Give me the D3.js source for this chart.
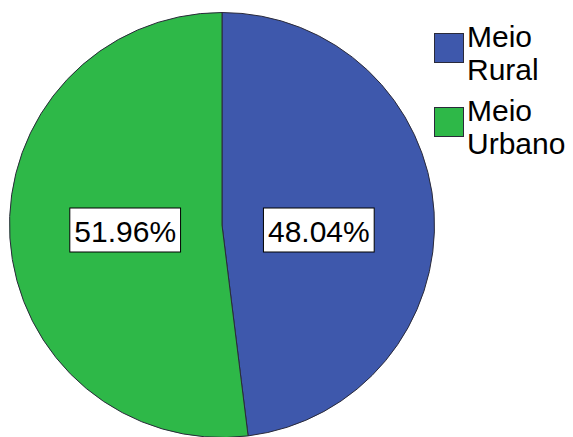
<!DOCTYPE html>
<html>
<head>
<meta charset="utf-8">
<script src="https://cdn.jsdelivr.net/npm/d3@7"></script>
<style>
  html, body { margin: 0; padding: 0; background: #fff; }
  svg { display: block; }
  text { font-family: "Liberation Sans", Arial, sans-serif; }
</style>
</head>
<body>
<svg id="chart" width="573" height="437"></svg>
<script>
// Share of respondents by area of residence
const categories = ["Meio Rural", "Meio Urbano"];
const legendLines = [["Meio", "Rural"], ["Meio", "Urbano"]];
const percents = [48.04, 51.96];
const colors = ["#3e58ac", "#2eb848"];

const width = 573, height = 437;
const cx = 222, cy = 225, radius = 212.5;

const svg = d3.select("#chart");

const pie = d3.pie().sort(null).value(d => d)
  .startAngle(0).endAngle(2 * Math.PI);
const arcs = pie(percents);

const arc = d3.arc().innerRadius(0).outerRadius(radius);
const labelArc = d3.arc().innerRadius(97).outerRadius(97);

const g = svg.append("g").attr("transform", `translate(${cx},${cy})`);

g.selectAll("path.slice")
  .data(arcs)
  .join("path")
  .attr("class", "slice")
  .attr("d", arc)
  .attr("fill", (d, i) => colors[i])
  .attr("stroke", "#2a2a3a")
  .attr("stroke-width", 1);

// Percentage labels in white boxes
const fmt = v => v.toFixed(2) + "%";
const labels = g.selectAll("g.lbl")
  .data(arcs)
  .join("g")
  .attr("class", "lbl")
  .attr("transform", d => {
    const [x] = labelArc.centroid(d);
    return `translate(${x},5)`;
  });

labels.each(function(d) {
  const sel = d3.select(this);
  const t = sel.append("text")
    .attr("text-anchor", "middle")
    .attr("y", 11.5)
    .attr("font-size", 30)
    .attr("fill", "#000")
    .text(fmt(d.data));
  const w = t.node().getComputedTextLength();
  sel.insert("rect", "text")
    .attr("x", -w / 2 - 4.5)
    .attr("y", -22)
    .attr("width", w + 9)
    .attr("height", 44)
    .attr("fill", "#fff")
    .attr("stroke", "#000")
    .attr("stroke-width", 1);
});

// Legend
const legend = svg.append("g").attr("transform", "translate(434,33)");
const item = legend.selectAll("g.item")
  .data(categories)
  .join("g")
  .attr("class", "item")
  .attr("transform", (d, i) => `translate(0,${i * 74})`);

item.append("rect")
  .attr("x", 0.5).attr("y", 0.5)
  .attr("width", 29).attr("height", 29)
  .attr("fill", (d, i) => colors[i])
  .attr("stroke", "#2a2a3a")
  .attr("stroke-width", 1);

item.each(function(d, i) {
  const t = d3.select(this).append("text")
    .attr("x", 33)
    .attr("font-size", 30)
    .attr("fill", "#000");
  legendLines[i].forEach((line, j) => {
    t.append("tspan").attr("x", 33).attr("y", 14 + j * 33).text(line);
  });
});
</script>
</body>
</html>
